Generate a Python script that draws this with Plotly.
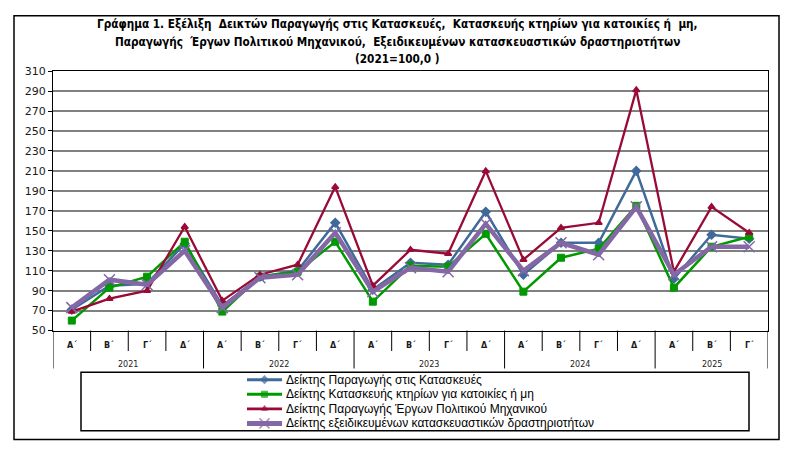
import plotly.graph_objects as go

quarters = ["Α΄", "Β΄", "Γ΄", "Δ΄"] * 4 + ["Α΄", "Β΄", "Γ΄"]
years = ["2021", "2022", "2023", "2024", "2025"]
year_sizes = [4, 4, 4, 4, 3]

construction = [71, 95, 97, 137, 75, 104, 110, 158, 91, 118, 116, 169, 106, 138, 138, 210, 102, 146, 142]
buildings = [60, 93, 104, 139, 69, 104, 109, 139, 79, 115, 114, 147, 89, 123, 132, 175, 93, 134, 144]
civil = [69, 82, 90, 154, 80, 106, 116, 194, 95, 131, 127, 210, 121, 153, 158, 291, 109, 174, 148]
specialised = [73, 101, 96, 130, 73, 103, 106, 148, 89, 113, 109, 157, 110, 138, 126, 174, 106, 134, 134]

names = [
    "Δείκτης Παραγωγής στις Κατασκευές",
    "Δείκτης Κατασκευής κτηρίων για κατοικίες ή μη",
    "Δείκτης Παραγωγής Έργων Πολιτικού Μηχανικού",
    "Δείκτης εξειδικευμένων κατασκευαστικών δραστηριοτήτων",
]

W, H = 794, 461
L, R, T, B = 53, 768, 67, 334  # plot area pixels


def px(xp):
    return xp / W


def py(yp):
    return 1 - yp / H


n = len(quarters)
xs = [i + 0.5 for i in range(n)]

fig = go.Figure()
styles = [
    dict(color="#3F6A9A", width=2.5, symbol="diamond", msize=6, lw=2),
    dict(color="#009A00", width=2.5, symbol="square", msize=7, lw=1),
    dict(color="#9A0A36", width=2.3, symbol="triangle-up", msize=6, lw=1.5),
    dict(color="#8468A6", width=4.5, symbol="x-thin", msize=11, lw=1.5),
]
series = [construction, buildings, civil, specialised]
for vals, name, st in zip(series, names, styles):
    fig.add_trace(go.Scatter(
        x=xs, y=vals, name=name, mode="lines+markers", showlegend=False,
        line=dict(color=st["color"], width=st["width"]),
        marker=dict(symbol=st["symbol"], size=st["msize"], color=st["color"],
                    line=dict(color=st["color"], width=st["lw"])),
        xaxis="x", yaxis="y",
    ))

# legend glyphs on a small helper axis
for k, (name, st) in enumerate(zip(names, styles)):
    fig.add_trace(go.Scatter(
        x=[0, 0.5, 1], y=[k + 0.5] * 3, mode="lines+markers", showlegend=False,
        line=dict(color=st["color"], width=st["width"] + 0.5),
        marker=dict(symbol=st["symbol"], size=[0, st["msize"] - 1, 0], color=st["color"],
                    line=dict(color=st["color"], width=st["lw"])),
        xaxis="x2", yaxis="y2", hoverinfo="skip",
    ))

shapes = []
shapes.append(dict(type="rect", xref="paper", yref="paper",
                   x0=px(14), x1=px(779), y0=py(446), y1=py(10),
                   line=dict(color="black", width=1.5), layer="below"))
shapes.append(dict(type="rect", xref="paper", yref="paper",
                   x0=px(81), x1=px(749), y0=py(437), y1=py(377),
                   line=dict(color="black", width=1.5)))
year_bounds = [0]
for s in year_sizes:
    year_bounds.append(year_bounds[-1] + s)
for b in range(n + 1):
    long = b in year_bounds
    shapes.append(dict(type="line", xref="x", yref="paper", x0=b, x1=b,
                       y0=py(B), y1=py(373) if long else py(355),
                       line=dict(color="black", width=1)))

annotations = []
for x, q in zip(xs, quarters):
    annotations.append(dict(x=x, y=py(349), xref="x", yref="paper", text="<b>" + q + "</b>",
                            showarrow=False, font=dict(family="DejaVu Sans", size=8, color="#1a1a1a"),
                            xanchor="center", yanchor="middle"))
for yi, yr in enumerate(years):
    annotations.append(dict(x=(year_bounds[yi] + year_bounds[yi + 1]) / 2, y=py(369), xref="x", yref="paper",
                            text=yr, showarrow=False,
                            font=dict(family="DejaVu Sans", size=8, color="#1a1a1a"),
                            xanchor="center", yanchor="middle"))
for k, name in enumerate(names):
    annotations.append(dict(x=px(284), y=k + 0.5, xref="paper", yref="y2", text=name,
                            showarrow=False, font=dict(family="Liberation Sans", size=12, color="black"),
                            xanchor="left", yanchor="middle"))

title_lines = [
    "Γράφημα 1. Εξέλιξη  Δεικτών Παραγωγής στις Κατασκευές,  Κατασκευής κτηρίων για κατοικίες ή  μη,",
    "Παραγωγής  Έργων Πολιτικού Μηχανικού,  Εξειδικευμένων κατασκευαστικών δραστηριοτήτων",
    "(2021=100,0 )",
]
for k, tl in enumerate(title_lines):
    annotations.append(dict(x=px(397), y=py(19 + 18 * k), xref="paper", yref="paper",
                            text="<b>" + tl + "</b>", showarrow=False,
                            font=dict(family="Liberation Sans Narrow, DejaVu Sans Condensed, sans-serif",
                                      size=11.7, color="black"),
                            xanchor="center", yanchor="middle"))

fig.update_layout(
    width=W, height=H,
    margin=dict(l=0, r=0, t=0, b=0, pad=0),
    paper_bgcolor="white", plot_bgcolor="white",
    showlegend=False,
    xaxis=dict(domain=[px(L), px(R)], range=[0, n], showticklabels=False, ticks="", showgrid=False,
               zeroline=False, showline=True, linecolor="black", linewidth=1, mirror=True, fixedrange=True),
    yaxis=dict(domain=[py(B), py(T)], range=[50, 310], dtick=20, tick0=50, showgrid=True,
               gridcolor="#808080", gridwidth=1.5,
               zeroline=False, showline=True, linecolor="black", linewidth=1, mirror=True,
               ticks="outside", ticklen=4, tickcolor="black",
               tickfont=dict(family="DejaVu Sans", size=11, color="#1a1a1a")),
    xaxis2=dict(domain=[px(247), px(282)], range=[0, 1], visible=False, anchor="y2", fixedrange=True),
    yaxis2=dict(domain=[py(437), py(377)], range=[4, 0], visible=False, anchor="x2", fixedrange=True),
    shapes=shapes,
    annotations=annotations,
)

fig.write_html("out.html")
